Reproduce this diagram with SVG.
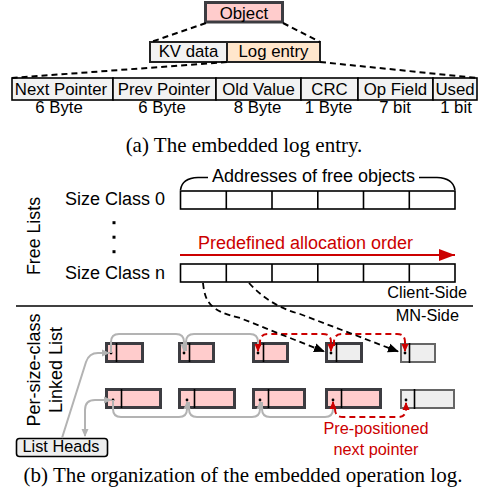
<svg xmlns="http://www.w3.org/2000/svg" width="479" height="502" viewBox="0 0 479 502">
<style>
.s{font-family:"Liberation Sans",Arial,sans-serif;fill:#000}
.cap{font-family:"Liberation Serif","Times New Roman",serif;font-size:21px;fill:#000}
.cell{fill:#f2f2f2;stroke:#000;stroke-width:1.6}
.fl{fill:#fff;stroke:#000;stroke-width:1.6}
.dash{fill:none;stroke:#000;stroke-width:2;stroke-dasharray:6,4}
.pk{fill:#ffcccc;stroke:#3c3c41;stroke-width:3}
.gy{fill:#eeeeee;stroke:#3c3c41;stroke-width:3}
.gy2{fill:#eeeeee;stroke:#666;stroke-width:2}
.div{stroke:#000;stroke-width:1.6}
.gl{fill:none;stroke:#b3b3b3;stroke-width:2}
.rl{fill:none;stroke:#cc0000;stroke-width:2;stroke-dasharray:6,4}
.bl{fill:none;stroke:#000;stroke-width:1.8;stroke-dasharray:6,4}
.red{fill:#cc0000}
</style>
<defs>
<marker id="ag" markerWidth="8" markerHeight="8" refX="7" refY="4" orient="auto-start-reverse" markerUnits="userSpaceOnUse"><path d="M0,0.5 L8,4 L0,7.5 Z" fill="#b3b3b3"/></marker>
<marker id="ar" markerWidth="8" markerHeight="8" refX="7" refY="4" orient="auto" markerUnits="userSpaceOnUse"><path d="M0,0.5 L8,4 L0,7.5 Z" fill="#cc0000"/></marker>
<marker id="ab" markerWidth="11" markerHeight="10" refX="10" refY="5" orient="auto" markerUnits="userSpaceOnUse"><path d="M0,0.5 L11,5 L0,9.5 Z" fill="#000"/></marker>
<marker id="abig" markerWidth="16" markerHeight="12" refX="16" refY="6" orient="auto" markerUnits="userSpaceOnUse"><path d="M0,0 L16,6 L0,12 Z" fill="#cc0000"/></marker>
</defs>

<!-- (a) embedded log entry -->
<g id="object">
<rect x="205.5" y="2.5" width="77" height="19.5" fill="#ffcccc" stroke="#3c3c41" stroke-width="3"/>
<text class="s" x="244" y="18.5" font-size="16.8" text-anchor="middle">Object</text>
</g>
<g id="kvdata">
<rect x="150" y="42" width="77" height="20" fill="#f2f2f2" stroke="#222" stroke-width="2"/>
<text class="s" x="188.5" y="57" font-size="16.8" text-anchor="middle">KV data</text>
</g>
<g id="logentry">
<rect x="227" y="42" width="93" height="20" fill="#ffe6cc" stroke="#222" stroke-width="2"/>
<text class="s" x="273.5" y="57" font-size="16.8" text-anchor="middle">Log entry</text>
</g>
<g id="fields">
<rect class="cell" x="12" y="78" width="101" height="22"/>
<rect class="cell" x="113" y="78" width="103" height="22"/>
<rect class="cell" x="216" y="78" width="85" height="22"/>
<rect class="cell" x="301" y="78" width="57" height="22"/>
<rect class="cell" x="358" y="78" width="75" height="22"/>
<rect class="cell" x="433" y="78" width="44" height="22"/>
<g class="s" font-size="16.8" text-anchor="middle">
<text x="61" y="95">Next Pointer</text>
<text x="164" y="95">Prev Pointer</text>
<text x="258.5" y="95">Old Value</text>
<text x="329.5" y="95">CRC</text>
<text x="395.5" y="95">Op Field</text>
<text x="455" y="95">Used</text>
<text x="59" y="113">6 Byte</text>
<text x="162" y="113">6 Byte</text>
<text x="257.5" y="113">8 Byte</text>
<text x="328.5" y="113">1 Byte</text>
<text x="395" y="113">7 bit</text>
<text x="456" y="113">1 bit</text>
</g>
</g>
<text class="cap" x="244" y="152" text-anchor="middle">(a) The embedded log entry.</text>

<!-- (b) free lists -->
<text class="s" font-size="17.8" text-anchor="middle" transform="translate(40,236) rotate(-90)">Free Lists</text>
<g id="sizeclass0">
<text class="s" x="165" y="205" font-size="18" text-anchor="end">Size Class 0</text>
<rect class="fl" x="180.5" y="191" width="274.5" height="18"/>
<path class="div" d="M226.3,191V209M272,191V209M317.8,191V209M363.5,191V209M409.3,191V209"/>
</g>
<g id="brace">
<path d="M180.5,190 Q182,178 198,177.5 L208,177.5 M419,177.5 L437,177.5 Q453,178 455,190" fill="none" stroke="#000" stroke-width="1.6"/>
<text class="s" x="313.5" y="182" font-size="18" text-anchor="middle">Addresses of free objects</text>
</g>
<g id="dots" fill="#000">
<rect x="112.5" y="221.2" width="3" height="3"/>
<rect x="112.5" y="235.7" width="3" height="3"/>
<rect x="112.5" y="250.2" width="3" height="3"/>
</g>
<g id="order">
<line x1="180" y1="255" x2="455" y2="255" stroke="#cc0000" stroke-width="2" marker-end="url(#abig)"/>
<text x="305.5" y="249" font-size="18" text-anchor="middle" font-family="Liberation Sans,Arial,sans-serif" class="red">Predefined allocation order</text>
</g>
<g id="sizeclassn">
<text class="s" x="165" y="279" font-size="18" text-anchor="end">Size Class n</text>
<rect class="fl" x="180.5" y="264" width="274.5" height="18"/>
<path class="div" d="M226.3,264V282M272,264V282M317.8,264V282M363.5,264V282M409.3,264V282"/>
</g>
<text class="s" x="467" y="298" font-size="16.3" text-anchor="end">Client-Side</text>
<line x1="16" y1="306" x2="473" y2="306" stroke="#000" stroke-width="1.6"/>
<text class="s" x="459" y="321" font-size="16.3" text-anchor="end">MN-Side</text>

<text class="s" font-size="18" text-anchor="middle" transform="translate(40,370) rotate(-90)">Per-size-class</text>
<text class="s" font-size="18" text-anchor="middle" transform="translate(62,370) rotate(-90)">Linked List</text>

<!-- linked list nodes row 1 -->
<g id="r1n1"><rect class="pk" x="106.5" y="343.5" width="36" height="18"/><path class="div" d="M116.5,343V362"/><circle cx="111" cy="353" r="1.4"/></g>
<g id="r1n2"><rect class="pk" x="179.5" y="343.5" width="34" height="18"/><path class="div" d="M189.5,343V362"/><circle cx="184" cy="353" r="1.4"/></g>
<g id="r1n3"><rect class="pk" x="253.5" y="343.5" width="34" height="18"/><path class="div" d="M263.5,343V362"/><circle cx="258" cy="353" r="1.4"/></g>
<g id="r1n4"><rect class="gy" x="326.5" y="343.5" width="35" height="18"/><path class="div" d="M336.5,343V362"/><circle cx="331" cy="353" r="1.4"/></g>
<g id="r1n5"><rect class="gy2" x="401" y="344" width="34" height="18"/><path class="div" d="M409.5,343V363"/><circle cx="405" cy="353" r="1.4"/></g>
<!-- row 2 -->
<g id="r2n1"><rect class="pk" x="106.5" y="389.5" width="54" height="18"/><path class="div" d="M121.5,389V408"/><circle cx="113" cy="400" r="1.4"/></g>
<g id="r2n2"><rect class="pk" x="179.5" y="389.5" width="55" height="18"/><path class="div" d="M194.5,389V408"/><circle cx="187" cy="400" r="1.4"/></g>
<g id="r2n3"><rect class="pk" x="253.5" y="389.5" width="51" height="18"/><path class="div" d="M268.5,389V408"/><circle cx="260" cy="400" r="1.4"/></g>
<g id="r2n4"><rect class="pk" x="326.5" y="389.5" width="54" height="18"/><path class="div" d="M341.5,389V408"/><circle cx="333" cy="400" r="1.4"/></g>
<g id="r2n5"><rect class="gy2" x="401" y="390" width="53" height="18"/><path class="div" d="M414.5,389V409"/><circle cx="406" cy="400" r="1.4"/></g>

<g id="listheads">
<rect x="16.5" y="438.5" width="91" height="18" rx="3" fill="#eeeeee" stroke="#000" stroke-width="1.6"/>
<text class="s" x="61" y="452" font-size="16.3" text-anchor="middle">List Heads</text>
</g>

<text x="376" y="434" font-size="16.3" text-anchor="middle" font-family="Liberation Sans,Arial,sans-serif" class="red">Pre-positioned</text>
<text x="376" y="455" font-size="16.3" text-anchor="middle" font-family="Liberation Sans,Arial,sans-serif" class="red">next pointer</text>

<g id="connectors">
<!-- list heads -->
<path class="gl" d="M62,438 L86,362 Q89,353 98,353 L109,353" marker-end="url(#ag)"/>
<path class="gl" d="M85,436 L85,410 Q85,400 95,400 L111,400" marker-start="url(#ag)" marker-end="url(#ag)"/>
<!-- row 1 gray -->
<path class="gl" d="M111,353 L111,342 Q111,334 119,334 L176,334 Q184,334 184,342 L184,351" marker-end="url(#ag)"/>
<path class="gl" d="M186,351 L186,342 Q186,334 194,334 L250,334 Q258,334 258,342 L258,346"/>
<path d="M258,345 L258,351" stroke="#cc0000" stroke-width="2" marker-end="url(#ar)"/>
<!-- row 1 red -->
<path class="rl" d="M260,346 L260,342 Q260,334 268,334 L323,334 Q331,334 331,342 L331,346"/>
<path d="M331,345 L331,351" stroke="#cc0000" stroke-width="2" marker-end="url(#ar)"/>
<path class="rl" d="M334,346 L334,342 Q334,334 342,334 L397,334 Q405,334 405,342 L405,346"/>
<path d="M405,345 L405,351" stroke="#cc0000" stroke-width="2" marker-end="url(#ar)"/>
<!-- row 2 gray -->
<path class="gl" d="M113,400 L113,409 Q113,417 121,417 L179,417 Q187,417 187,409 L187,402" marker-end="url(#ag)"/>
<path class="gl" d="M189,402 L189,409 Q189,417 197,417 L252,417 Q260,417 260,409 L260,402" marker-end="url(#ag)"/>
<path class="gl" d="M262,402 L262,409 Q262,417 270,417 L325,417 Q333,417 333,409 L333,408"/>
<path d="M333,409 L333,402" stroke="#cc0000" stroke-width="2" marker-end="url(#ar)"/>
<!-- row 2 red -->
<path class="rl" d="M335,408 L335,409 Q335,417 343,417 L398,417 Q406,417 406,409 L406,408"/>
<path d="M406,409 L406,403" stroke="#cc0000" stroke-width="2" marker-end="url(#ar)"/>
<!-- free list to nodes -->
<path class="bl" d="M203,283 C205,302 210,311 240,318 L324,351.5" marker-end="url(#ab)"/>
<path class="bl" d="M249,283 Q270,306 300,314 L398,351.5" marker-end="url(#ab)"/>
<!-- top dashed -->
<path class="dash" d="M206,23 L151,42 M283,23 L320,42 M227,62 L12,78 M320,62 L477,78"/>
</g>

<text class="cap" x="243" y="482" text-anchor="middle">(b) The organization of the embedded operation log.</text>
</svg>
